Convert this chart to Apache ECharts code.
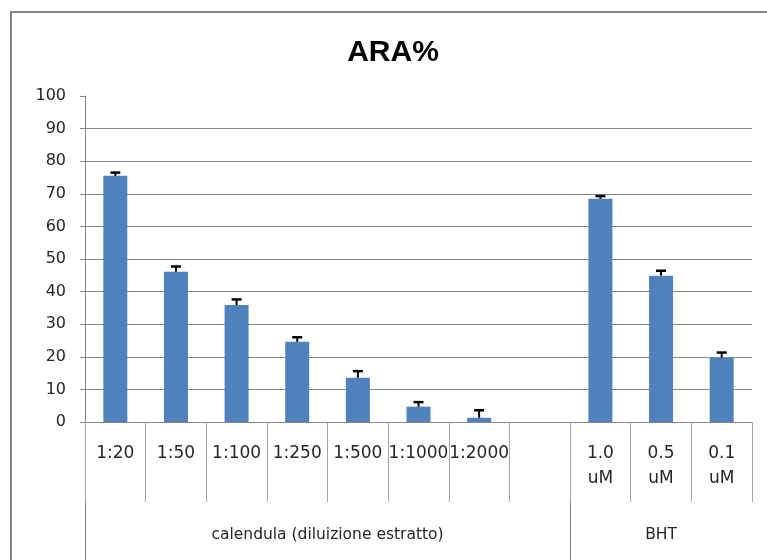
<!DOCTYPE html>
<html>
<head>
<meta charset="utf-8">
<script src="https://cdn.jsdelivr.net/npm/echarts@6/dist/echarts.min.js"></script>
<style>
  html, body { margin: 0; padding: 0; background: #fff; }
  #main { width: 767px; height: 560px; }
</style>
</head>
<body>
<div id="main"></div>
<script>
// categorie e valori
var categories = ['1:20', '1:50', '1:100', '1:250', '1:500', '1:1000', '1:2000', '', '1.0\nuM', '0.5\nuM', '0.1\nuM'];
var values = [75.5, 46.1, 35.9, 24.6, 13.6, 4.7, 1.3, null, 68.5, 44.9, 19.8];
var errors = [1.0, 1.6, 1.7, 1.4, 2.0, 1.4, 2.3, null, 0.8, 1.5, 1.5];
var groupNames = ['calendula (diluizione estratto)', 'BHT'];
var groupStart = [0, 8];
var groupEnd = [8, 11];
var yTicks = [0, 10, 20, 30, 40, 50, 60, 70, 80, 90, 100];

var chartDom = document.getElementById('main');
var myChart = echarts.init(chartDom);
var option;

var errData = [];
for (var i = 0; i < values.length; i++) {
  if (values[i] != null) errData.push([i, values[i], errors[i]]);
}
var groupMid = groupStart.map(function (s, i) { return (s + groupEnd[i]) / 2; });

var txt = '#262626';
var axisGray = '#868686';

option = {
  animation: false,
  title: {
    text: 'ARA%',
    left: 388,
    textAlign: 'center',
    top: 33,
    textStyle: { fontFamily: 'Liberation Sans', fontSize: 30, fontWeight: 'bold', color: '#000' }
  },
  graphic: [{
    type: 'rect',
    shape: { x: 11, y: 12, width: 800, height: 600 },
    style: { fill: 'none', stroke: axisGray, lineWidth: 2 },
    silent: true
  }],
  grid: { left: 85, right: 15, top: 96, bottom: 138 },
  xAxis: [
    {
      type: 'category',
      data: categories,
      axisLine: { show: true, lineStyle: { color: axisGray, width: 1 } },
      axisTick: { show: true, interval: 0, alignWithLabel: false, length: 80, lineStyle: { color: '#a6a6a6', width: 1 } },
      axisLabel: {
        interval: 0, hideOverlap: false, margin: 19, lineHeight: 25,
        fontFamily: 'DejaVu Sans', fontSize: 17, color: txt
      }
    },
    {
      type: 'value',
      min: 0,
      max: categories.length,
      position: 'bottom',
      offset: 80,
      axisLine: { show: false },
      splitLine: { show: false },
      axisTick: { show: true, length: 58, customValues: groupStart, lineStyle: { color: axisGray } },
      axisLabel: {
        customValues: groupMid,
        margin: 25,
        fontFamily: 'DejaVu Sans', fontSize: 15.5, color: txt,
        formatter: function (v) {
          var k = groupMid.indexOf(v);
          return k >= 0 ? groupNames[k] : '';
        }
      }
    }
  ],
  yAxis: {
    type: 'value',
    min: yTicks[0],
    max: yTicks[yTicks.length - 1],
    interval: 10,
    axisLine: { show: true, lineStyle: { color: axisGray } },
    axisTick: { show: true, length: 5, lineStyle: { color: axisGray } },
    axisLabel: { margin: 19, fontFamily: 'DejaVu Sans', fontSize: 16, color: txt },
    splitLine: { show: true, showMaxLine: false, lineStyle: { color: axisGray, width: 1 } }
  },
  series: [
    {
      name: 'ARA%',
      type: 'bar',
      data: values,
      barWidth: 24,
      itemStyle: { color: '#4f81bd' }
    },
    {
      name: 'err',
      type: 'custom',
      data: errData,
      encode: { x: 0, y: 1 },
      z: 10,
      renderItem: function (params, api) {
        var x = api.value(0);
        var v = api.value(1);
        var e = api.value(2);
        var lo = api.coord([x, v]);
        var hi = api.coord([x, v + e]);
        return {
          type: 'group',
          children: [
            { type: 'line', shape: { x1: lo[0], y1: lo[1], x2: hi[0], y2: hi[1] }, style: { stroke: '#000', lineWidth: 2 } },
            { type: 'line', shape: { x1: hi[0] - 5, y1: hi[1], x2: hi[0] + 5, y2: hi[1] }, style: { stroke: '#000', lineWidth: 2.5 } }
          ]
        };
      }
    }
  ]
};

option && myChart.setOption(option);
</script>
</body>
</html>
